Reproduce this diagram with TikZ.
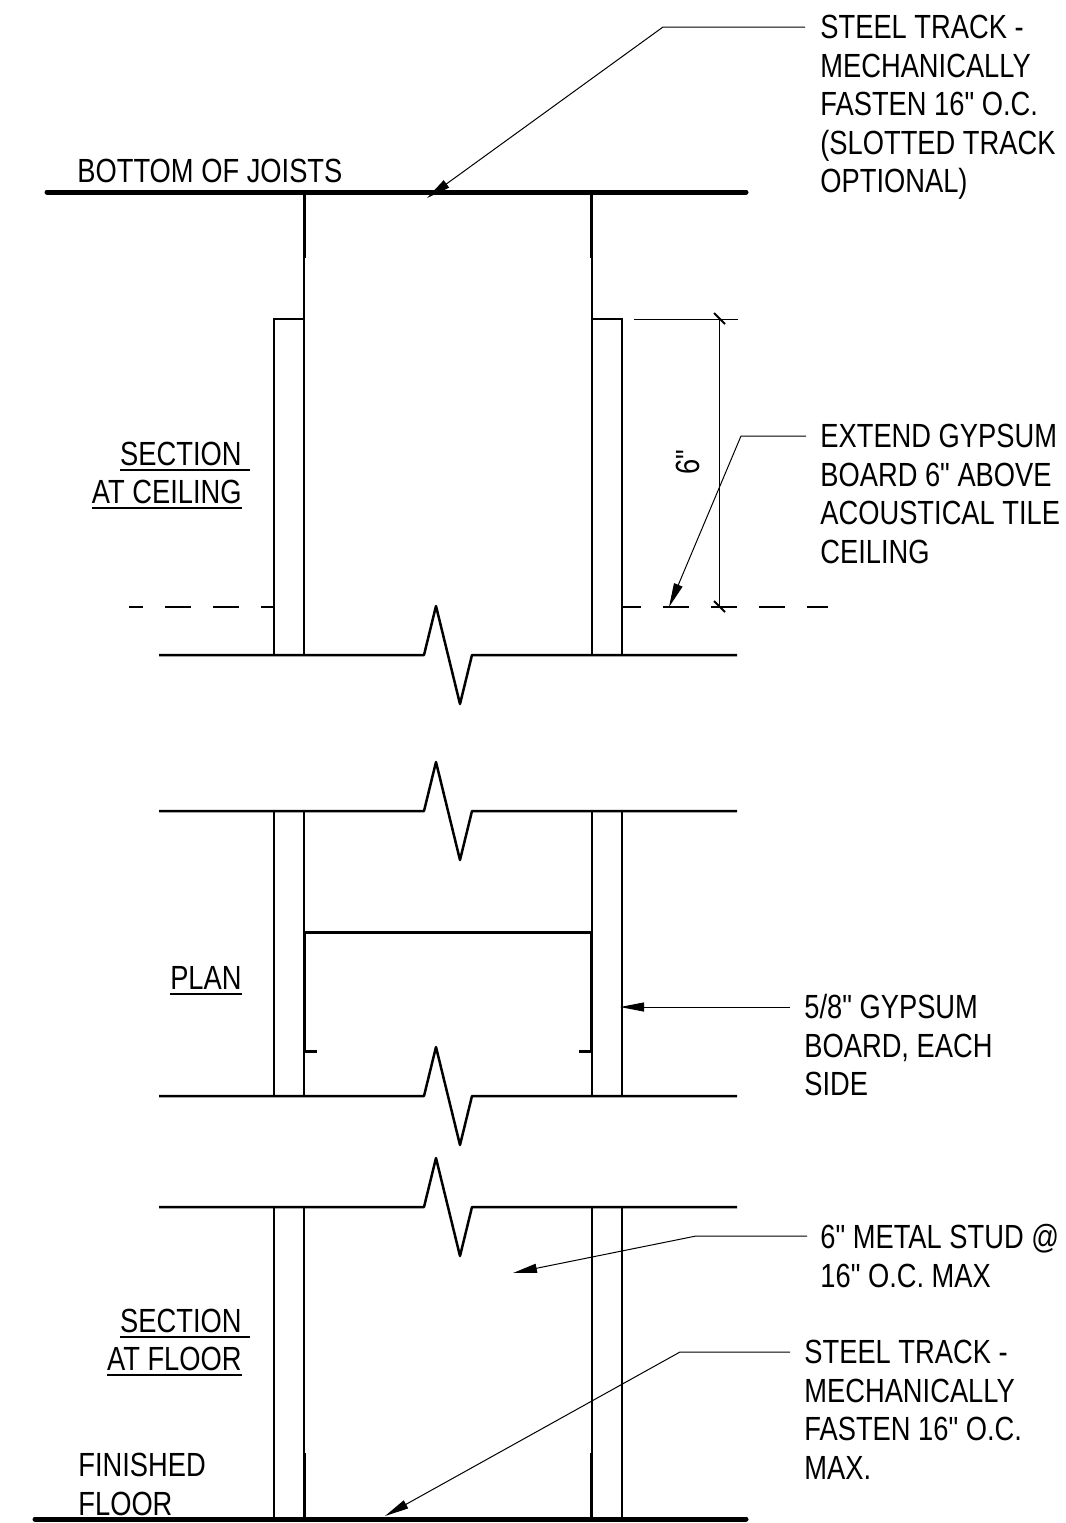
\documentclass[tikz,border=0pt]{standalone}
\usepackage{fontspec}
\setmainfont[FakeStretch=0.815,Ligatures=TeXOff]{Liberation Sans}
\usetikzlibrary{arrows.meta}
\tikzset{>={Triangle[length=12pt,width=4.5pt]}}
\tikzset{
  slab/.style = {line width=2.5pt,line cap=round},
  stud/.style = {line width=1.6pt},
  web/.style = {line width=1pt},
  board/.style = {line width=0.6pt},
  breakline/.style = {line width=1.25pt,line join=round},
  leader/.style = {line width=0.5pt,->},
  dimline/.style = {line width=0.5pt},
  ceilingline/.style = {line width=0.8pt,dash pattern=on 13pt off 11pt},
  note/.style = {anchor=north west,inner sep=0pt,align=left,
    font=\fontsize{16.75}{19.25}\selectfont},
  title/.style = {anchor=north east,inner sep=0pt,align=right,
    font=\fontsize{16.75}{19.25}\selectfont}
}
\newcommand{\ultext}[2][0pt]{\setbox0=\hbox{#2}\rlap{\rule[-2.75pt]{\dimexpr\wd0+#1\relax}{1pt}}\box0}

\begin{document}
\begin{tikzpicture}[x=0.5pt,y=-0.5pt]
  \useasboundingbox (0,0) rectangle (1066,1523);
  % slabs
  \draw[slab] (47,192) -- (746,192);
  \draw[slab] (35,1519) -- (746,1519);
  % section at ceiling
  \draw[stud] (304.5,192) -- (304.5,258);
  \draw[stud] (591.5,192) -- (591.5,258);
  \draw[web] (304,258) -- (304,655);
  \draw[web] (592,258) -- (592,655);
  \draw[board] (304,319) -- (274,319) -- (274,655);
  \draw[board] (592,319) -- (622,319) -- (622,655);
  \draw[ceilingline,dash phase=6pt] (129,607) -- (274,607);
  \draw[ceilingline,dash phase=3.5pt] (622,607) -- (828,607);
  % wall lines between the breaks
  \foreach \x in {274,304,592,622} {
    \draw[board] (\x,811) -- (\x,1096);
    \draw[board] (\x,1207) -- (\x,1519);
  }
  \foreach \y in {655,811,1096,1207} {
    \draw[breakline] (159,\y) -- (424,\y) -- (436,\y-49) -- (460,\y+49) -- (472,\y) -- (737,\y);
  }
  % plan
  \draw[web,line width=1.5pt] (317,1051) -- (304.5,1051) -- (304.5,932) -- (591.5,932) -- (591.5,1051) -- (579,1051);
  % section at floor
  \draw[stud] (304.5,1453) -- (304.5,1519);
  \draw[stud] (591.5,1453) -- (591.5,1519);
  % dimension
  \coordinate (dimTop) at (719.5,319);
  \coordinate (dimBot) at (719.5,607);
  \draw[dimline] (634,319) -- (738,319);
  \draw[dimline] (dimTop) -- (dimBot);
  \draw[web] (714,313) -- (725,324);
  \draw[web] (714,601) -- (725,612);
  \node[inner sep=0pt,rotate=90,font=\fontsize{16.75}{19.25}\selectfont] (dimText) at (688,462) {6"};
  % labels
  \node[note,anchor=base west] (joists) at (77,182.5) {BOTTOM OF JOISTS};
  \node[title] (titleCeiling) at (242,441.5) {\ultext[4pt]{SECTION}\\\ultext{AT CEILING}};
  \node[title] (titlePlan) at (242,966) {\ultext{PLAN}};
  \node[title] (titleFloor) at (242,1308.5) {\ultext[4pt]{SECTION}\\\ultext{AT FLOOR}};
  \node[note] (finished) at (78,1453) {FINISHED\\FLOOR};
  \node[note] (noteTrackTop) at (820,15) {STEEL TRACK -\\MECHANICALLY\\FASTEN 16" O.C.\\(SLOTTED TRACK\\OPTIONAL)};
  \node[note] (noteExtend) at (820,424) {EXTEND GYPSUM\\BOARD 6" ABOVE\\ACOUSTICAL TILE\\CEILING};
  \node[note] (noteBoard) at (804,994) {5/8" GYPSUM\\BOARD, EACH\\SIDE};
  \node[note] (noteStud) at (820,1224) {6" METAL STUD @\\16" O.C. MAX};
  \node[note] (noteTrackBot) at (804,1340) {STEEL TRACK -\\MECHANICALLY\\FASTEN 16" O.C.\\MAX.};
  % leaders
  \coordinate (trackTopFrom) at (805,27);
  \coordinate (trackTopKnee) at (663,27);
  \coordinate (trackTopTip) at (427,198);
  \draw[leader] (trackTopFrom) -- (trackTopKnee) -- (trackTopTip);
  \coordinate (extendFrom) at (806,436);
  \coordinate (extendKnee) at (741,436);
  \coordinate (extendTip) at (669,607);
  \draw[leader] (extendFrom) -- (extendKnee) -- (extendTip);
  \coordinate (boardFrom) at (790,1007);
  \coordinate (boardTip) at (620,1007);
  \draw[leader] (boardFrom) -- (boardTip);
  \coordinate (studFrom) at (807,1236);
  \coordinate (studKnee) at (696,1236);
  \coordinate (studTip) at (513,1273);
  \draw[leader] (studFrom) -- (studKnee) -- (studTip);
  \coordinate (trackBotFrom) at (790,1352);
  \coordinate (trackBotKnee) at (680,1352);
  \coordinate (trackBotTip) at (385,1516);
  \draw[leader] (trackBotFrom) -- (trackBotKnee) -- (trackBotTip);
\end{tikzpicture}
\end{document}
